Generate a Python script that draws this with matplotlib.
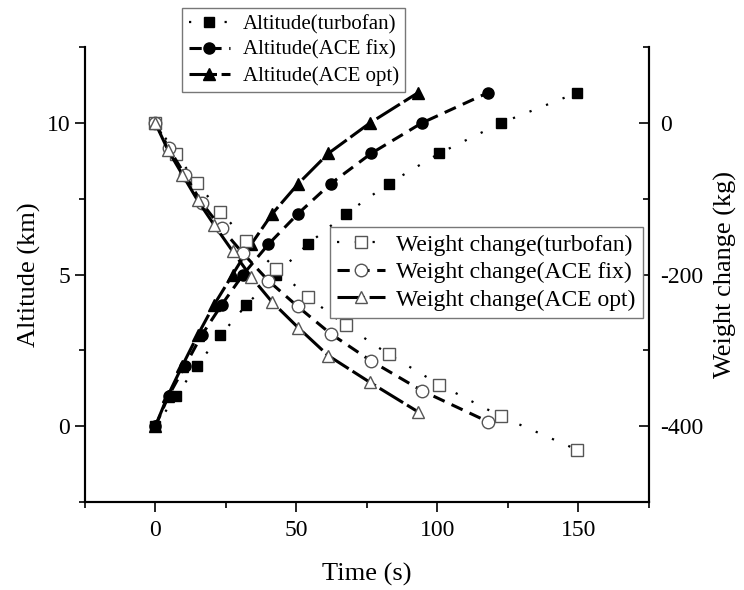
import matplotlib.pyplot as plt
from matplotlib.ticker import MultipleLocator

plt.rcParams['font.family'] = ['Liberation Serif', 'DejaVu Serif']
plt.rcParams['axes.unicode_minus'] = False

# altitude (km) vs time (s)
alt_levels = [0, 1, 2, 3, 4, 5, 6, 7, 8, 9, 10, 11]
t_turbofan = [0, 7.4, 14.7, 23.1, 32.3, 42.8, 54.0, 67.5, 82.7, 100.7, 122.6, 149.6]
t_ace_fix = [0, 4.7, 10.6, 16.4, 23.5, 31.1, 40.1, 50.5, 62.2, 76.6, 94.5, 118.0]
t_ace_opt = [0, 4.4, 9.6, 15.0, 20.8, 27.4, 34.0, 41.4, 50.7, 61.4, 76.1, 93.2]

# weight change (kg), same time points
w_turbofan = [0, -41, -79, -117, -155, -192, -229, -267, -305, -345, -387, -431]
w_ace_fix = [0, -33, -69, -105, -139, -172, -208, -242, -278, -314, -353, -394]
w_ace_opt = [0, -35, -68, -102, -134, -169, -203, -236, -270, -307, -342, -381]

dot_ls = (0, (1, 7))
dash_ls = (0, (4, 2.5))
long_ls = (0, (9, 1.5))
open_edge = '#555555'

fig = plt.figure(figsize=(7.44, 5.90), dpi=100)
ax = fig.add_axes([0.114, 0.149, 0.758, 0.771])
ax2 = ax.twinx()

l1, = ax.plot(t_turbofan, alt_levels, color='k', ls=dot_ls, lw=1.6,
              marker='s', ms=7, label='Altitude(turbofan)')
l2, = ax.plot(t_ace_fix, alt_levels, color='k', ls=dash_ls, lw=2.2,
              marker='o', ms=8, label='Altitude(ACE fix)')
l3, = ax.plot(t_ace_opt, alt_levels, color='k', ls=long_ls, lw=2.2,
              marker='^', ms=8, label='Altitude(ACE opt)')

m1, = ax2.plot(t_turbofan, w_turbofan, color='k', ls=dot_ls, lw=1.6,
               marker='s', ms=8, mfc='white', mec=open_edge, mew=1,
               label='Weight change(turbofan)')
m2, = ax2.plot(t_ace_fix, w_ace_fix, color='k', ls=dash_ls, lw=2.2,
               marker='o', ms=9, mfc='white', mec=open_edge, mew=1,
               label='Weight change(ACE fix)')
m3, = ax2.plot(t_ace_opt, w_ace_opt, color='k', ls=long_ls, lw=2.2,
               marker='^', ms=9, mfc='white', mec=open_edge, mew=1,
               label='Weight change(ACE opt)')

ax.set_xlim(-25, 175)
ax.set_ylim(-2.5, 12.5)
ax2.set_ylim(-500, 100)

ax.xaxis.set_major_locator(MultipleLocator(50))
ax.xaxis.set_minor_locator(MultipleLocator(25))
ax.yaxis.set_major_locator(MultipleLocator(5))
ax.yaxis.set_minor_locator(MultipleLocator(2.5))
ax2.yaxis.set_major_locator(MultipleLocator(200))
ax2.yaxis.set_minor_locator(MultipleLocator(100))

ax.tick_params(axis='both', which='major', direction='out', length=7, width=1.2, labelsize=17)
ax.tick_params(axis='x', which='major', pad=6)
ax.tick_params(axis='both', which='minor', direction='out', length=4, width=1.2)
ax2.tick_params(axis='y', which='major', direction='in', length=7, width=1.2,
                labelsize=17, pad=8)
ax2.tick_params(axis='y', which='minor', direction='in', length=4, width=1.2)

for a in (ax, ax2):
    a.spines['top'].set_visible(False)
    for s in ('left', 'right', 'bottom'):
        a.spines[s].set_linewidth(1.5)
ax.spines['left'].set_color('#444444')

ax.set_xlabel('Time (s)', fontsize=19, labelpad=16)
ax.set_ylabel('Altitude (km)', fontsize=19)
ax2.set_ylabel('Weight change (kg)', fontsize=19, labelpad=8)

leg1 = fig.legend(handles=[l1, l2, l3], loc='upper left', bbox_to_anchor=(0.245, 0.986),
                  fontsize=15, fancybox=False, edgecolor='#777777', framealpha=1,
                  borderaxespad=0, handletextpad=0.6, borderpad=0.3, labelspacing=0.3,
                  handlelength=2.0)
leg2 = ax2.legend(handles=[m1, m2, m3], loc='upper right', bbox_to_anchor=(0.864, 0.615),
                  bbox_transform=fig.transFigure, fontsize=17, fancybox=False,
                  edgecolor='#777777', framealpha=1, borderaxespad=0,
                  handletextpad=0.5, borderpad=0.3, labelspacing=0.25)

fig.savefig('out.png', dpi=100)
